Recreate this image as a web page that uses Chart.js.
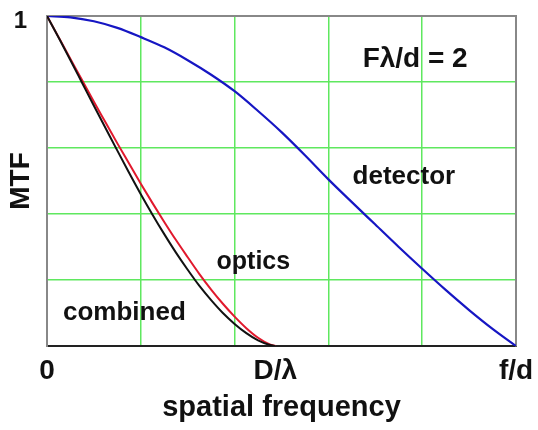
<!DOCTYPE html>
<html><head><meta charset="utf-8">
<script src="https://cdn.jsdelivr.net/npm/chart.js@4/dist/chart.umd.min.js"></script>
<style>html,body{margin:0;padding:0;background:#fff;}#wrap{width:538px;height:430px;}</style>
</head><body><div id="wrap"><canvas id="c" width="538" height="430"></canvas></div>
<script>
// spatial frequency in units of the detector cutoff (f/d = 1)
const freqOptics = [0,0.025,0.05,0.075,0.1,0.125,0.15,0.175,0.2,0.225,0.25,0.275,0.3,0.325,0.35,0.375,0.4,0.425,0.45,0.475,0.487];
const optics     = [1,0.935,0.870,0.805,0.740,0.677,0.614,0.553,0.492,0.433,0.376,0.321,0.269,0.218,0.171,0.128,0.089,0.054,0.025,0.005,0];
const combined   = [1,0.934,0.866,0.797,0.728,0.660,0.592,0.525,0.460,0.398,0.339,0.283,0.231,0.182,0.139,0.100,0.067,0.039,0.017,0.003,0];
const freqDetector = [0,0.05,0.1,0.15,0.2,0.25,0.3,0.35,0.4,0.45,0.5,0.55,0.6,0.65,0.7,0.75,0.8,0.85,0.9,0.95,1];
const detector     = [1,0.996,0.984,0.964,0.936,0.905,0.866,0.822,0.772,0.712,0.648,0.578,0.505,0.436,0.368,0.300,0.234,0.170,0.109,0.052,0];
const xTickValues = [0, 0.487, 1];
const xTickLabels = ['0', 'D/λ', 'f/d'];
const yTickValues = [1];
const yTickLabels = ['1'];
const annotations = [
  {text:'Fλ/d = 2', x:0.785, y:0.870, size:28},
  {text:'detector', x:0.761, y:0.512, size:26},
  {text:'optics',   x:0.440, y:0.254, size:25},
  {text:'combined', x:0.165, y:0.100, size:26}
];

const FONT = '"Liberation Sans", Arial, sans-serif';
const GREEN = 'rgb(95,232,95)';
const pts = (xs, ys) => xs.map((x, i) => ({x, y: ys[i]}));
const edgeless = c => (c.tick && (c.tick.value <= 0 || c.tick.value >= 1)) ? 'rgba(0,0,0,0)' : GREEN;
const noPad = s => { s.paddingLeft = 0; s.paddingRight = 0; s.paddingTop = 0; s.paddingBottom = 0; };

const annotationPlugin = {
  id: 'annot',
  afterDatasetsDraw(chart) {
    const {ctx, scales} = chart;
    ctx.save();
    ctx.fillStyle = '#111';
    ctx.textAlign = 'center';
    ctx.textBaseline = 'middle';
    annotations.forEach(a => {
      ctx.font = 'bold ' + a.size + 'px ' + FONT;
      ctx.fillText(a.text, scales.x.getPixelForValue(a.x), scales.y.getPixelForValue(a.y));
    });
    ctx.restore();
  }
};

new Chart(document.getElementById('c'), {
  type: 'line',
  data: {
    datasets: [
      {label:'combined', data: pts(freqOptics, combined), borderColor:'#111', borderWidth:2, pointRadius:0, cubicInterpolationMode:'monotone', order:1},
      {label:'optics', data: pts(freqOptics, optics), borderColor:'rgb(225,25,45)', borderWidth:2, pointRadius:0, cubicInterpolationMode:'monotone', order:2},
      {label:'detector', data: pts(freqDetector, detector), borderColor:'rgb(22,22,195)', borderWidth:2.2, pointRadius:0, cubicInterpolationMode:'monotone', order:3}
    ]
  },
  options: {
    responsive: false, animation: false, devicePixelRatio: 1,
    layout: {padding: {top: 16, right: 22, left: 0, bottom: 0}},
    plugins: {legend: {display: false}, tooltip: {enabled: false}},
    scales: {
      x: {
        type: 'linear', position: 'bottom', min: 0, max: 1,
        afterBuildTicks: s => { s.ticks = xTickValues.map(v => ({value: v})); },
        ticks: {callback: (v, i) => xTickLabels[i], font: {family: FONT, size: 28, weight: 'bold', lineHeight: 1}, color: '#111', padding: 11, autoSkip: false, maxRotation: 0},
        grid: {display: false, drawTicks: false, tickLength: 0},
        border: {color: '#222', width: 2},
        title: {display: true, text: 'spatial frequency', color: '#111', font: {family: FONT, size: 29, weight: 'bold', lineHeight: 1}, padding: {top: 0, bottom: 8}},
        afterFit: s => { s.height = 84; noPad(s); }
      },
      xg: {
        type: 'linear', position: 'top', min: 0, max: 1,
        ticks: {display: false, stepSize: 0.2},
        grid: {color: edgeless, lineWidth: 1.5, drawTicks: false, tickLength: 0},
        border: {color: '#888', width: 2},
        afterFit: s => { s.height = 0; noPad(s); }
      },
      y: {
        type: 'linear', position: 'left', min: 0, max: 1,
        afterBuildTicks: s => { s.ticks = yTickValues.map(v => ({value: v})); },
        ticks: {callback: (v, i) => yTickLabels[i], font: {family: FONT, size: 24, weight: 'bold', lineHeight: 1}, color: '#111', padding: 20, labelOffset: 5},
        grid: {display: false, drawTicks: false, tickLength: 0},
        border: {color: '#888', width: 2},
        title: {display: true, text: 'MTF', color: '#111', font: {family: FONT, size: 28, weight: 'bold', lineHeight: 1}, padding: {top: 7, bottom: 0}},
        afterFit: s => { s.width = 47; noPad(s); }
      },
      yg: {
        type: 'linear', position: 'right', min: 0, max: 1,
        ticks: {display: false, stepSize: 0.2},
        grid: {color: edgeless, lineWidth: 1.5, drawTicks: false, tickLength: 0},
        border: {color: '#888', width: 2},
        afterFit: s => { s.width = 0; noPad(s); }
      }
    }
  },
  plugins: [annotationPlugin]
});
</script></body></html>
